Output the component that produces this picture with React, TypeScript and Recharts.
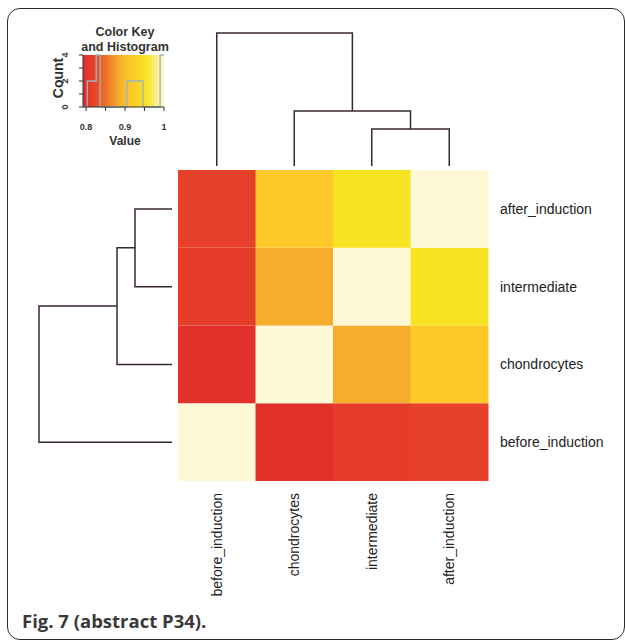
import React from "react";
import {
  BarChart,
  Bar,
  Cell,
  XAxis,
  YAxis,
  LineChart,
  Line,
  ComposedChart,
  ReferenceArea,
} from "recharts";

// samples, in heatmap order (bottom-to-top rows, left-to-right columns)
const samples = ["before_induction", "chondrocytes", "intermediate", "after_induction"];

// correlation matrix, one row per sample
const corrBefore = [1.0, 0.8, 0.815, 0.817];
const corrChondro = [0.8, 1.0, 0.885, 0.915];
const corrInter = [0.815, 0.885, 1.0, 0.955];
const corrAfter = [0.817, 0.915, 0.955, 1.0];
const corrRows = [corrBefore, corrChondro, corrInter, corrAfter];

// hierarchical clustering merges (same tree on rows and columns)
const merges = [
  { id: "m1", a: "intermediate", b: "after_induction", height: 0.37 },
  { id: "m2", a: "chondrocytes", b: "m1", height: 0.55 },
  { id: "m3", a: "before_induction", b: "m2", height: 1.33 },
];

// colour key: value -> colour stops
const keyValues = [0.792, 0.8, 0.82, 0.85, 0.885, 0.915, 0.955, 0.985, 1.0];
const keyColors = ["#E22A28", "#E4302A", "#E6422A", "#EE702B", "#F6AE2C", "#FCC82A", "#F8E322", "#FAF0A0", "#FEF8D6"];

// histogram in the key (step outline)
const histBreaks = [0.795, 0.803, 0.826, 0.836, 0.905, 0.946, 0.99, 1.0];
const histCounts = [0, 2, 4, 0, 2, 0, 4, 4];

const keyTicks = [0.8, 0.85, 0.9, 0.95, 1];
const keyTickLabels: Record<string, string> = { "0.8": "0.8", "0.9": "0.9", "1": "1" };
const countTicks = [0, 1, 2, 3, 4];
const countTickLabels: Record<string, string> = { "0": "0", "2": "2", "4": "4" };

const FONT = "'Liberation Sans', Arial, Helvetica, sans-serif";
const TREE = "#3b2b26";

function hexToRgb(h: string) {
  const n = parseInt(h.slice(1), 16);
  return [(n >> 16) & 255, (n >> 8) & 255, n & 255];
}

function colorOf(v: number) {
  if (v <= keyValues[0]) return keyColors[0];
  for (let i = 1; i < keyValues.length; i++) {
    if (v <= keyValues[i]) {
      const t = (v - keyValues[i - 1]) / (keyValues[i] - keyValues[i - 1]);
      const c0 = hexToRgb(keyColors[i - 1]);
      const c1 = hexToRgb(keyColors[i]);
      const c = c0.map((x, k) => Math.round(x + (c1[k] - x) * t));
      return `rgb(${c[0]},${c[1]},${c[2]})`;
    }
  }
  return keyColors[keyColors.length - 1];
}

// build the U-shaped segments of the dendrogram
function dendroSegments() {
  const pos: Record<string, number> = {};
  const hgt: Record<string, number> = {};
  samples.forEach((s, i) => {
    pos[s] = i + 0.5;
    hgt[s] = 0;
  });
  return merges.map((m) => {
    const pts = [
      { p: pos[m.a], h: hgt[m.a] },
      { p: pos[m.a], h: m.height },
      { p: pos[m.b], h: m.height },
      { p: pos[m.b], h: hgt[m.b] },
    ];
    pos[m.id] = (pos[m.a] + pos[m.b]) / 2;
    hgt[m.id] = m.height;
    return { id: m.id, pts };
  });
}

const segments = dendroSegments();

const heatData = samples.map((col) => {
  const row: Record<string, string | number> = { name: col };
  samples.forEach((r) => (row[r] = 1));
  return row;
});

const histData = histBreaks.map((x, i) => ({ x, c: histCounts[i] }));

const ColTick = (props: any) => {
  const { x, y, payload } = props;
  return (
    <text
      x={x}
      y={y}
      transform={`rotate(-90 ${x} ${y})`}
      textAnchor="end"
      dy="0.35em"
      fontSize={14}
      fontFamily={FONT}
      fill="#222"
    >
      {payload.value}
    </text>
  );
};

const CountTick = (props: any) => {
  const { x, y, payload } = props;
  return (
    <text
      x={x}
      y={y}
      transform={`rotate(-90 ${x} ${y})`}
      textAnchor="middle"
      fontSize={9}
      fontWeight="bold"
      fontFamily={FONT}
      fill="#333"
    >
      {countTickLabels[String(payload.value)] ?? ""}
    </text>
  );
};

export default function App() {
  const maxH = merges[merges.length - 1].height;
  return (
    <div
      style={{
        position: "fixed",
        left: 0,
        top: 0,
        width: 625,
        height: 641,
        overflow: "hidden",
        background: "#fff",
        fontFamily: FONT,
      }}
    >
      <div
        style={{
          position: "absolute",
          left: 7,
          top: 8,
          width: 616,
          height: 630,
          border: "1.6px solid #2b2b2b",
          borderRadius: 13,
        }}
      />

      {/* colour key */}
      <div
        style={{
          position: "absolute",
          left: 64,
          top: 25,
          width: 122,
          textAlign: "center",
          fontSize: 12.5,
          fontWeight: "bold",
          lineHeight: "15px",
          color: "#333",
        }}
      >
        Color Key
        <br />
        and Histogram
      </div>
      <div
        style={{
          position: "absolute",
          left: 36,
          top: 70,
          width: 44,
          textAlign: "center",
          fontSize: 14,
          fontWeight: "bold",
          lineHeight: "16px",
          color: "#333",
          transform: "rotate(-90deg)",
        }}
      >
        Count
      </div>
      <div
        style={{
          position: "absolute",
          left: 95,
          top: 134,
          width: 60,
          textAlign: "center",
          fontSize: 12,
          fontWeight: "bold",
          lineHeight: "14px",
          color: "#333",
        }}
      >
        Value
      </div>
      <div style={{ position: "absolute", left: 40, top: 20 }}>
        <ComposedChart
          width={140}
          height={130}
          data={histData}
          margin={{ top: 35, right: 16, bottom: 3, left: 18 }}
        >
          <defs>
            <linearGradient id="keyGrad" x1="0" y1="0" x2="1" y2="0">
              {keyValues.map((v, i) => (
                <stop
                  key={v}
                  offset={`${((v - keyValues[0]) / (1 - keyValues[0])) * 100}%`}
                  stopColor={keyColors[i]}
                />
              ))}
            </linearGradient>
          </defs>
          <XAxis
            type="number"
            dataKey="x"
            domain={[keyValues[0], 1]}
            ticks={keyTicks}
            interval={0}
            tickFormatter={(v) => keyTickLabels[String(v)] ?? ""}
            tickSize={4}
            tickMargin={13}
            height={40}
            allowDataOverflow
            stroke="#333"
            tick={{ fontSize: 9, fontWeight: "bold", fill: "#333", fontFamily: FONT }}
          />
          <YAxis
            type="number"
            domain={[0, 4]}
            ticks={countTicks}
            interval={0}
            tickSize={4}
            tickMargin={11}
            width={25}
            stroke="#333"
            tick={<CountTick />}
          />
          <ReferenceArea
            x1={keyValues[0]}
            x2={1}
            y1={0}
            y2={4}
            fill="url(#keyGrad)"
            fillOpacity={1}
            stroke="none"
          />
          <Line
            type="stepAfter"
            dataKey="c"
            stroke="#9cb4bc"
            strokeWidth={1.3}
            dot={false}
            isAnimationActive={false}
          />
        </ComposedChart>
      </div>

      {/* column dendrogram */}
      <div style={{ position: "absolute", left: 178, top: 31 }}>
        <LineChart width={310} height={137} margin={{ top: 2, right: 0, bottom: 2, left: 0 }}>
          <XAxis type="number" dataKey="p" domain={[0, 4]} hide />
          <YAxis type="number" domain={[0, maxH]} hide />
          {segments.map((s) => (
            <Line
              key={s.id}
              data={s.pts}
              dataKey="h"
              type="linear"
              stroke={TREE}
              strokeWidth={1.5}
              dot={false}
              isAnimationActive={false}
            />
          ))}
        </LineChart>
      </div>

      {/* row dendrogram */}
      <div style={{ position: "absolute", left: 37, top: 170 }}>
        <LineChart width={137} height={311} margin={{ top: 0, right: 2, bottom: 0, left: 2 }}>
          <XAxis type="number" dataKey="h" domain={[0, maxH]} reversed hide />
          <YAxis type="number" domain={[0, 4]} hide />
          {segments.map((s) => (
            <Line
              key={s.id}
              data={s.pts}
              dataKey="p"
              type="linear"
              stroke={TREE}
              strokeWidth={1.5}
              dot={false}
              isAnimationActive={false}
            />
          ))}
        </LineChart>
      </div>

      {/* heatmap */}
      <div style={{ position: "absolute", left: 178, top: 170 }}>
        <BarChart
          width={447}
          height={431}
          data={heatData}
          barCategoryGap={0}
          margin={{ top: 0, right: 0, bottom: 0, left: 0 }}
        >
          <XAxis
            dataKey="name"
            interval={0}
            axisLine={false}
            tickLine={false}
            tickSize={0}
            tickMargin={12}
            height={120}
            tick={<ColTick />}
          />
          <YAxis
            orientation="right"
            type="number"
            domain={[0, 4]}
            ticks={[0.5, 1.5, 2.5, 3.5]}
            interval={0}
            tickFormatter={(v) => samples[Math.floor(v)]}
            axisLine={false}
            tickLine={false}
            tickSize={0}
            tickMargin={12}
            width={137}
            tick={{ fontSize: 14, fill: "#222", fontFamily: FONT, textAnchor: "start" }}
          />
          {samples.map((rowName, ri) => (
            <Bar key={rowName} dataKey={rowName} stackId="h" isAnimationActive={false}>
              {samples.map((colName, ci) => (
                <Cell key={colName} fill={colorOf(corrRows[ri][ci])} />
              ))}
            </Bar>
          ))}
        </BarChart>
      </div>

      <div
        style={{
          position: "absolute",
          left: 22,
          top: 608,
          fontFamily: "'Open Sans', 'Noto Sans', sans-serif",
          fontWeight: "bold",
          fontSize: 18.5,
          lineHeight: "normal",
          color: "#3a3a3a",
          whiteSpace: "nowrap",
        }}
      >
        Fig. 7 (abstract P34).
      </div>
    </div>
  );
}
